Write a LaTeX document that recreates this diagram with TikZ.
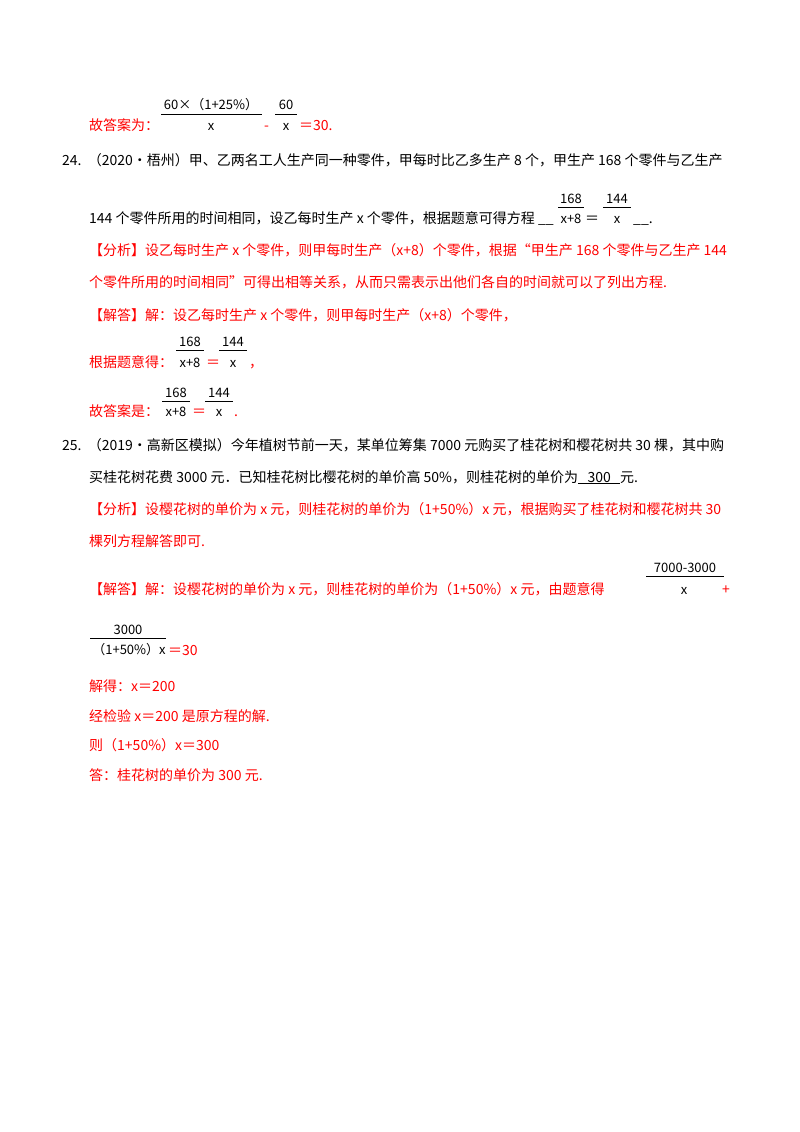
\documentclass[tikz,border=0pt]{standalone}
\usepackage{fontspec}
\setmainfont{Noto Sans CJK SC}
\definecolor{ans}{RGB}{255,0,0}
\begin{document}
\begin{tikzpicture}[x=1pt,y=-1pt,
  t/.style={anchor=base west,inner sep=0,font=\fontsize{14}{16}\selectfont},
  r/.style={t,text=ans},
  m/.style={anchor=base,inner sep=0,font=\fontsize{13}{15}\selectfont},
  bar/.style={line width=0.9pt}]
\useasboundingbox[fill=white] (0,0) rectangle (800,1132);
% top
\node[m] (n1) at (211,109) {60×（1+25\%）};
\draw[bar] (161,114) -- (262,114);
\node[m] (d1) at (211,130) {x};
\node[m] (n2) at (286,109) {60};
\draw[bar] (275,114) -- (297,114);
\node[r] (a1) at (89,130) {故答案为：};
\node[r] (m1) at (264,130) {-};
\node[m] (d2) at (286,130) {x};
\node[r] (e1) at (299,130) {＝30.};
% 24
\node[t] (q24) at (62,165) {24.\ \ （2020•梧州）甲、乙两名工人生产同一种零件，甲每时比乙多生产 8 个，甲生产 168 个零件与乙生产};
\node[t] (q24b) at (89,223) {144 个零件所用的时间相同，设乙每时生产 \textit{x} 个零件，根据题意可得方程 \_\_};
\node[m] (f1) at (571,203) {168};
\draw[bar] (558,207) -- (584,207);
\node[m] at (571,223) {x+8};
\node[t] at (585,223) {＝};
\node[m] (f2) at (617,203) {144};
\draw[bar] (603,207) -- (631,207);
\node[m] at (617,223) {x};
\node[t] at (633,223) {\_\_.};
\node[r] (an24) at (89,255) {【分析】设乙每时生产 \textit{x} 个零件，则甲每时生产（\textit{x}+8）个零件，根据“甲生产 168 个零件与乙生产 144};
\node[r] at (89,287) {个零件所用的时间相同”可得出相等关系，从而只需表示出他们各自的时间就可以了列出方程.};
\node[r] at (89,320) {【解答】解：设乙每时生产 \textit{x} 个零件，则甲每时生产（\textit{x}+8）个零件，};
\node[m] at (190,346) {168};
\draw[bar] (176,350) -- (204,350);
\node[m] at (190,367) {x+8};
\node[r] at (89,367) {根据题意得：};
\node[r] at (206,367) {＝};
\node[m] at (233,346) {144};
\draw[bar] (219,350) -- (247,350);
\node[m] at (233,367) {x};
\node[r] at (249,367) {，};
\node[m] at (176,397) {168};
\draw[bar] (162,401) -- (190,401);
\node[m] at (176,416) {x+8};
\node[r] at (89,416) {故答案是：};
\node[r] at (192,416) {＝};
\node[m] at (219,397) {144};
\draw[bar] (205,401) -- (233,401);
\node[m] at (219,416) {x};
\node[r] at (234,416) {.};
% 25
\node[t] (q25) at (62,450) {25.\ \ （2019•高新区模拟）今年植树节前一天，某单位筹集 7000 元购买了桂花树和樱花树共 30 棵，其中购};
\node[t] at (89,482) {买桂花树花费 3000 元．已知桂花树比樱花树的单价高 50\%，则桂花树的单价为\underline{\ \ \ 300\ \ \ }元.};
\node[r] at (89,514) {【分析】设樱花树的单价为 \textit{x} 元，则桂花树的单价为（1+50\%）\textit{x} 元，根据购买了桂花树和樱花树共 30};
\node[r] at (89,546) {棵列方程解答即可.};
\node[m] at (685,572) {7000-3000};
\draw[bar] (646,576) -- (724,576);
\node[m] at (684,594) {x};
\node[r] at (89,594) {【解答】解：设樱花树的单价为 \textit{x} 元，则桂花树的单价为（1+50\%）\textit{x} 元，由题意得};
\node[r] at (722,594) {+};
\node[m] at (128,634) {3000};
\draw[bar] (90,638) -- (166,638);
\node[m] at (129,654) {（1+50\%）x};
\node[r] at (168,655) {＝30};
\node[r] at (89,691) {解得：\textit{x}＝200};
\node[r] at (89,721) {经检验 \textit{x}＝200 是原方程的解.};
\node[r] at (89,750) {则（1+50\%）\textit{x}＝300};
\node[r] at (89,780) {答：桂花树的单价为 300 元.};
\end{tikzpicture}
\end{document}
